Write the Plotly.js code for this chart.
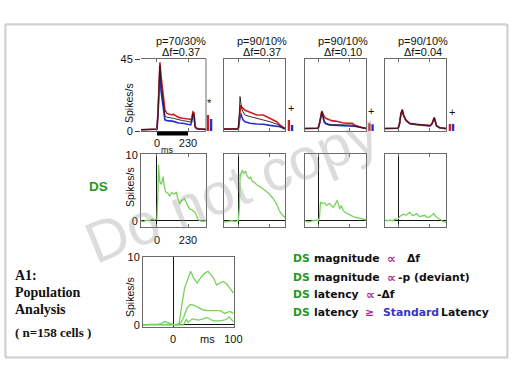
<!DOCTYPE html>
<html><head><meta charset="utf-8">
<script src="https://cdn.plot.ly/plotly-3.0.1.min.js"></script>
<style>html,body{margin:0;padding:0;background:#fff}#chart{width:512px;height:384px}</style>
</head><body><div id="chart"></div>
<script>
// ---------- DATA ----------
const pLabels  = ['p=70/30%', 'p=90/10%', 'p=90/10%', 'p=90/10%'];
const dfLabels = ['\u0394f=0.37', '\u0394f=0.37', '\u0394f=0.10', '\u0394f=0.04'];
const tickMs = [0, 230];
const stimDur = 230;
const topTicks = [0, 45];
const dsTicks = [0, 10];
const popTicksX = [0, 100];

// top row PSTHs (ms, spikes/s)
const t1 = [-118,-80,-40,-10,0,8,15,22,30,42,59,75,90,110,121,140,160,190,215,235,250,258,266,274,282,294,320,362];
const red1 = [0.8,0.8,1,0.8,1.2,12,33,43,35,24,13,11,10.5,10,10.5,9.5,8.5,8,7.8,7.5,7,8,12,11.5,3,1.7,1.2,1];
const blue1 = [0.8,0.8,1,0.8,1.1,10,30,40,25,16,7,6.5,6.5,6.2,6,5.5,5,4.8,4.5,4.2,3.8,6,10.5,10,2.5,1.4,1.1,1];
const black1 = [0.8,0.8,1,0.8,1.1,11,32,41,30,20,9.5,8.5,8.5,8,8,7.5,7,6.5,6.2,6,5.5,7,11,10.5,2.8,1.5,1.1,1];

const t2 = [-106,-60,-20,0,8,13,18,25,35,50,87,136,185,235,260,284,309,333,346];
const red2 = [1.2,1.2,1.2,1.3,8,14,16,15,14,13,11.7,10,10,8,7,5.8,3.7,2,1.5];
const blue2 = [1.2,1.2,1.2,1.3,6,10.5,11,9,7,5.8,4.8,4.4,4.2,3.5,3.2,3,2.7,1.7,1.3];
const black2 = [1.2,1.2,1.2,1.3,12,21.5,18,14,12,10,9,8,7.2,5.8,5,4.4,3.2,2,1.5];

const t3 = [-98,-60,-20,0,10,20,27,35,45,57,81,105,131,155,180,215,240,254,270,291,328,356];
const red3 = [1.6,1.6,1.6,1.7,5,10,12.5,11,9,8,6.9,6.3,6.2,5.5,5.2,4.8,4.5,4.8,3.8,3.1,2,1.6];
const blue3 = [1.6,1.6,1.6,1.7,4.5,9.5,11.5,9,5.5,4.5,3.75,3.6,3.5,3.5,3.4,3.4,3.3,3.4,3,2.7,1.9,1.6];
const black3 = [1.6,1.6,1.6,1.7,4.8,10,12,10,6.5,5,4.2,4,3.9,3.8,3.7,3.6,3.5,3.7,3.1,2.8,2,1.6];

const t4 = [-98,-60,-20,0,10,20,30,40,57,86,136,185,235,250,260,267,275,284,309,354];
const red4 = [1.6,1.6,1.6,1.7,5,11,13.5,10,6.9,4.8,4.2,3.8,3.4,4.5,7.5,8.5,6,3.3,2,1.6];
const blue4 = [1.6,1.6,1.6,1.7,4.5,10.5,13,9.5,6.5,4.5,4,3.6,3.2,4.3,7.2,8.2,5.8,3.2,1.9,1.5];
const black4 = [1.6,1.6,1.6,1.7,4.8,10.8,13.2,9.8,6.7,4.6,4.1,3.7,3.3,4.4,7.3,8.3,5.9,3.2,2,1.6];

// mean response bars (deviant red, standard blue)
const barRed  = [10, 6.9, 4.8, 4.4];
const barBlue = [7.5, 3.75, 4.2, 4.4];
const sigMarks = ['*', '+', '+', '+'];

// DS (difference) traces
const dsT1 = [-118,-100,-80,-60,-40,-30,-20,-10,0,7,12,16,22,32,40,45,55,64,80,94,110,120,131,143,155,168,180,193,205,220,242,255,267,280,292,304,317,340,362];
const ds1  = [0,-0.15,0.1,0,0.2,0.25,0.1,0.2,0.3,4,8.5,7.2,5.8,5.6,6.2,6.7,5.2,4.4,4.2,3.8,4.3,4.1,4.1,4.4,3.3,2.6,3.0,3.1,3.3,2.6,1.8,1.7,1.5,1.3,0.8,0.25,0,-0.1,0];
const dsT2 = [-106,-80,-50,-20,0,8,14,22,30,40,54,66,79,92,104,120,141,160,175,190,210,225,240,258,277,295,310,330,346];
const ds2  = [-0.2,-0.1,0,-0.1,0,2,7,7.3,7.7,7.2,7.5,6.8,6.4,6.6,6,5.8,5.4,5.2,5,4.8,4.5,4.2,3.8,3.4,2.8,2,1.3,0.8,0.5];
const dsT3 = [-98,-70,-40,-10,0,10,17,25,35,49,62,74,86,98,111,125,141,150,161,173,185,198,210,222,235,247,265,284,300,321,340,356];
const ds3  = [0,-0.2,0,0.1,0,0.5,2.8,2.7,2.6,2.7,2.3,2.5,2.6,2.3,2.05,2.4,3.1,2.6,1.8,2.3,1.6,1.3,1.2,1.0,0.9,0.77,0.6,0.5,0.4,0.26,0.2,0.15];
const dsT4 = [-98,-80,-60,-40,-25,-15,0,12,25,37,50,62,75,86,100,111,125,136,150,161,175,198,210,222,240,252,264,275,284,300,309,320,333,354];
const ds4  = [0.1,0,0.1,0,0.2,0.25,0.3,0.67,0.8,1.0,0.9,0.85,1.1,1.3,0.9,0.75,0.95,1.1,0.8,0.6,0.75,0.8,0.6,0.5,0.7,0.9,1.1,0.7,0.5,0.3,0.25,0,-0.15,-0.2];

// population DS (bottom)
const popTA = [-50,-40,-30,-20,-14,-8,0,5,10,14,19,23,29,34,40,47,52,58,63,67,72,78,83,88,92,96,100];
const popA  = [0,0.1,0,0.2,0.5,0.3,0.1,0,0.3,2.7,5.4,6.4,7.9,6.9,6.2,7.1,7.6,7.9,7.4,6.9,5.9,6.2,6.4,6.1,5.7,5.2,4.7];
const popTB = [-50,-35,-20,-5,0,8,12,16,19,23,29,35,39,45,50,58,67,78,86,94,100];
const popB  = [0,0.1,0,0.1,0,0,0.3,0.8,1.5,2.5,3.0,2.9,2.7,2.4,2.2,2.1,2.1,2.1,1.7,2.0,1.7];
const popTC = [-50,-30,-10,0,10,14,17,22,25,32,42,50,56,62,67,78,88,93,100];
const popC  = [0,0.1,0,0,0.1,0,0,0.8,0.4,0.9,0.7,0.9,1.1,0.8,0.6,0.6,0.8,1.2,0.5];
const stdLatency = [15];

// ---------- LAYOUT HELPERS ----------
const W = 512, H = 384;
const fx = x => x / W, fy = y => 1 - y / H;
const FONT = 'Liberation Sans, Arial, sans-serif';
const FRAME = '#6a6a6a';
const RED = '#cc2020', BLUE = '#2630c8', DARK = '#1a1a1a', GREEN = '#76d35a';

const colX = [[141,206],[224,285],[305,366],[385,446]];
const colRange = [[-118,363],[-106,346],[-98,356],[-98,354]];
const barX = [[206,213],[287,294],[367.5,374.5],[448,455]];
const topY = [59,131], dsY = [154,227], popY = [257,327], popX = [143,234];

const topT = [t1,t2,t3,t4], topR = [red1,red2,red3,red4], topB = [blue1,blue2,blue3,blue4], topK = [black1,black2,black3,black4];
const dsT = [dsT1,dsT2,dsT3,dsT4], dsV = [ds1,ds2,ds3,ds4];

const layout = {
  width: W, height: H, margin: {l:0,r:0,t:0,b:0},
  paper_bgcolor: '#fff', plot_bgcolor: 'rgba(0,0,0,0)',
  showlegend: false, font: {family: FONT, size: 11, color: '#111'},
  annotations: [], shapes: []
};
const data = [];
const sfx = n => n === 1 ? '' : String(n);
const A = layout.annotations;
const txt = (x, y, t, o) => A.push(Object.assign({xref: 'paper', yref: 'paper', x: fx(x), y: fy(y), text: t,
  showarrow: false, xanchor: 'center', yanchor: 'middle', font: {size: 11, family: FONT, color: '#111'}}, o || {}));

for (let i = 0; i < 4; i++) {
  const nTop = i + 1, nDs = i + 5, nBar = i + 10;
  layout['xaxis' + sfx(nTop)] = {
    domain: [fx(colX[i][0]), fx(colX[i][1])], range: colRange[i], anchor: 'y' + sfx(nTop),
    showline: true, linecolor: FRAME, linewidth: 1, mirror: 'ticks', ticks: 'inside', ticklen: 3,
    tickcolor: FRAME, tickvals: tickMs, showticklabels: i === 0, showgrid: false, zeroline: false,
    tickfont: {size: 11, family: FONT}, ticklabelstandoff: 2
  };
  layout['yaxis' + sfx(nTop)] = {
    domain: [fy(topY[1]), fy(topY[0])], range: [0, 45], anchor: 'x' + sfx(nTop),
    showline: i !== 0, linecolor: FRAME, linewidth: 1, mirror: true,
    ticks: i === 0 ? 'outside' : '', ticklen: 5, tickcolor: '#444', tickvals: topTicks,
    showticklabels: i === 0, showgrid: false, zeroline: false, tickfont: {size: 11, family: FONT}
  };
  layout['xaxis' + nDs] = {
    domain: [fx(colX[i][0]), fx(colX[i][1])], range: colRange[i], anchor: 'y' + nDs,
    showline: true, linecolor: FRAME, linewidth: 1, mirror: 'ticks', ticks: 'inside', ticklen: 3,
    tickcolor: FRAME, tickvals: tickMs, showticklabels: i === 0, showgrid: false,
    zeroline: true, zerolinecolor: '#111', zerolinewidth: 1, tickfont: {size: 11, family: FONT}, ticklabelstandoff: 3
  };
  layout['yaxis' + nDs] = {
    domain: [fy(dsY[1]), fy(dsY[0])], range: [-0.95, 10.15], anchor: 'x' + nDs,
    showline: true, linecolor: FRAME, linewidth: 1, mirror: true, ticks: '', tickvals: dsTicks,
    showticklabels: i === 0, showgrid: false, zeroline: true, zerolinecolor: '#111', zerolinewidth: 1,
    tickfont: {size: 11, family: FONT}
  };
  layout['xaxis' + nBar] = {
    domain: [fx(barX[i][0]), fx(barX[i][1])], range: [-0.6, 1.6], anchor: 'y' + sfx(nTop), visible: false
  };
  const xa = 'x' + sfx(nTop), ya = 'y' + sfx(nTop);
  data.push({x: topT[i], y: topB[i], xaxis: xa, yaxis: ya, mode: 'lines', line: {color: BLUE, width: 1.6}, hoverinfo: 'skip'});
  data.push({x: topT[i], y: topR[i], xaxis: xa, yaxis: ya, mode: 'lines', line: {color: RED, width: 1.6}, hoverinfo: 'skip'});
  data.push({x: topT[i], y: topK[i], xaxis: xa, yaxis: ya, mode: 'lines', line: {color: DARK, width: 0.9}, hoverinfo: 'skip'});
  data.push({type: 'bar', x: [0, 1], y: [barRed[i], barBlue[i]], width: 0.75, xaxis: 'x' + nBar, yaxis: ya,
    marker: {color: [RED, BLUE], line: {width: 0}}, hoverinfo: 'skip'});
  data.push({x: dsT[i], y: dsV[i], xaxis: 'x' + nDs, yaxis: 'y' + nDs, mode: 'lines', line: {color: GREEN, width: 1.3}, hoverinfo: 'skip'});
  A.push({xref: 'x' + nBar, yref: ya, x: 0.5, y: Math.max(barRed[i], barBlue[i]), yshift: 12, xanchor: 'center', yanchor: 'middle',
    text: sigMarks[i], showarrow: false, font: {size: 11, family: FONT, color: '#111'}});
  const cx = (colX[i][0] + colX[i][1]) / 2 + 7.5;
  txt(cx, 40.7, pLabels[i]);
  txt(cx, 51.7, dfLabels[i]);
}

// bottom population panel
layout.xaxis9 = {
  domain: [fx(popX[0]), fx(popX[1])], range: [-50, 101], anchor: 'y9', showline: true, linecolor: FRAME,
  mirror: true, ticks: '', tickvals: popTicksX, showgrid: false, zeroline: true, zerolinecolor: '#111',
  zerolinewidth: 1, tickfont: {size: 11, family: FONT}, ticklabelstandoff: 2
};
layout.yaxis9 = {
  domain: [fy(popY[1]), fy(popY[0])], range: [-0.3, 10], anchor: 'x9', showline: true, linecolor: FRAME,
  mirror: true, ticks: '', tickvals: dsTicks, showgrid: false, zeroline: true, zerolinecolor: '#111',
  zerolinewidth: 1, tickfont: {size: 11, family: FONT}
};
[[popTA, popA], [popTB, popB], [popTC, popC]].forEach(p => data.push({x: p[0], y: p[1], xaxis: 'x9', yaxis: 'y9', mode: 'lines', line: {color: GREEN, width: 1.3}, hoverinfo: 'skip'}));
data.push({x: stdLatency, y: [-0.85], xaxis: 'x9', yaxis: 'y9', mode: 'markers', cliponaxis: false,
  marker: {symbol: 'line-ns', size: 5, line: {color: '#4040d0', width: 2.5}}, hoverinfo: 'skip'});

// shapes
layout.shapes.push({type: 'rect', xref: 'paper', yref: 'paper', x0: fx(6), x1: fx(508), y0: fy(358), y1: fy(25), line: {color: '#e6e6e6', width: 2}, layer: 'below'});
layout.shapes.push({type: 'rect', xref: 'paper', yref: 'paper', x0: fx(5), x1: fx(507), y0: fy(357), y1: fy(24), line: {color: '#bdbdbd', width: 1}, layer: 'below'});
layout.shapes.push({type: 'rect', xref: 'x', yref: 'paper', x0: 0, x1: stimDur, y0: fy(135.5), y1: fy(131.5), fillcolor: '#000', line: {width: 0}});
layout.shapes.push({type: 'line', xref: 'x domain', yref: 'y domain', x0: 1, x1: 1, y0: 0, y1: 1, line: {color: FRAME, width: 1}});

// axis text
txt(129, 103, 'Spikes/s', {textangle: -90, font: {size: 10.5, family: FONT, color: '#111'}});
txt(130, 187, 'Spikes/s', {textangle: -90, font: {size: 10.5, family: FONT, color: '#111'}});
txt(130, 297, 'Spikes/s', {textangle: -90, font: {size: 10.5, family: FONT, color: '#111'}});
txt(167, 150, 'ms', {font: {size: 9, family: FONT, color: '#111'}});
txt(207, 339, 'ms');
txt(98.5, 186, '<b>DS</b>', {font: {size: 13.5, family: FONT, color: '#1f9a1f'}});

// left description
const SERIF = 'Liberation Serif, Times New Roman, serif';
[['A1:', 275, 14], ['Population', 292, 14], ['Analysis', 309, 14], ['( n=158 cells )', 332, 13]].forEach(r =>
  txt(13, r[1], '<b>' + r[0] + '</b>', {xanchor: 'left', font: {size: r[2], family: SERIF, color: '#111'}}));

// findings legend
const DSG = '#1f9a1f', PUR = '#a0308e', STD = '#3535cc';
const LF = 'DejaVu Sans, Verdana, sans-serif';
const seg = (x, y, t, c, s) => txt(x, y, '<b>' + t + '</b>', {xanchor: 'left', font: {size: s || 10.8, family: LF, color: c}});
[258, 277, 294, 312].forEach(y => seg(291, y, 'DS', DSG));
seg(312, 258, 'magnitude', '#111'); seg(385, 258, '\u221D', PUR, 12.5); seg(405, 258, '\u0394f', '#111');
seg(312, 277, 'magnitude', '#111'); seg(385, 277, '\u221D', PUR, 12.5); seg(396, 277, '-p (deviant)', '#111');
seg(312, 294, 'latency', '#111'); seg(364, 294, '\u221D', PUR, 12.5); seg(375, 294, '-\u0394f', '#111');
seg(312, 312, 'latency', '#111'); seg(363, 312, '\u2265', PUR); seg(381, 312, 'Standard', STD); seg(439, 312, 'Latency', '#111');

// watermark
txt(232, 188, 'Do not copy', {textangle: -22, font: {size: 58, family: FONT, color: 'rgba(150,150,150,0.33)'}});

Plotly.newPlot('chart', data, layout, {staticPlot: true, displayModeBar: false});
</script></body></html>
